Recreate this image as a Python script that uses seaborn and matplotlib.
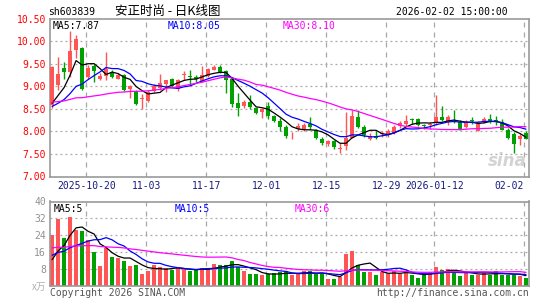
import numpy as np
import pandas as pd
import matplotlib
matplotlib.use('Agg')
import matplotlib.pyplot as plt
import seaborn as sns

## Data
code        = 'sh603839'
title       = '安正时尚 - 日K线图'
stamp       = '2026-02-02 15:00:00'
tick_idx    = [6, 16, 26, 36, 46, 56, 64, 79]
tick_labels = ['2025-10-20', '11-03', '11-17', '12-01', '12-15', '12-29', '2026-01-12', '02-02']

opens  = [8.58, 9.02, 9.41, 9.32, 9.80, 9.84, 9.21, 9.45, 9.16, 9.22,
          9.30, 9.17, 9.25, 8.93, 8.90, 8.72, 8.68, 8.90, 8.95, 9.05,
          9.16, 8.93, 9.25, 9.23, 9.21, 9.10, 9.23, 9.36, 9.42, 9.34,
          9.16, 8.62, 8.57, 8.64, 8.51, 8.42, 8.56, 8.33, 8.23, 8.10,
          7.91, 8.06, 8.05, 8.17, 8.04, 7.84, 7.73, 7.78, 7.62, 7.68,
          7.86, 8.31, 8.10, 7.83, 7.90, 7.94, 7.92, 7.97, 8.12, 8.16,
          8.28, 8.27, 8.13, 8.14, 8.20, 8.31, 8.20, 8.23, 8.20, 8.10,
          8.26, 8.01, 8.20, 8.28, 8.25, 8.21, 8.03, 7.94, 7.83, 7.96]
highs  = [9.45, 9.65, 9.54, 10.22, 10.13, 9.86, 9.48, 9.50, 9.30, 9.76,
          9.36, 9.30, 9.28, 9.02, 8.92, 8.82, 8.92, 9.04, 9.26, 9.14,
          9.18, 9.16, 9.33, 9.37, 9.24, 9.44, 9.40, 9.48, 9.48, 9.37,
          9.20, 8.84, 8.70, 8.80, 8.55, 8.52, 8.66, 8.36, 8.30, 8.14,
          7.99, 8.18, 8.18, 8.32, 8.06, 7.88, 7.80, 7.80, 7.75, 8.42,
          8.48, 8.47, 8.14, 7.96, 8.00, 8.00, 8.05, 8.14, 8.24, 8.36,
          8.30, 8.30, 8.16, 8.20, 8.80, 8.56, 8.36, 8.48, 8.25, 8.26,
          8.32, 8.22, 8.32, 8.38, 8.33, 8.28, 8.07, 7.99, 7.95, 8.00]
lows   = [8.52, 8.92, 9.17, 9.21, 9.62, 8.92, 9.15, 9.10, 9.14, 9.14,
          9.18, 9.15, 8.90, 8.75, 8.58, 8.50, 8.66, 8.88, 8.92, 8.87,
          8.98, 8.90, 9.14, 9.03, 9.10, 9.10, 9.20, 9.35, 9.30, 8.85,
          8.55, 8.33, 8.52, 8.50, 8.38, 8.30, 8.27, 8.21, 8.00, 7.85,
          7.83, 8.00, 8.00, 8.06, 7.82, 7.70, 7.68, 7.61, 7.53, 7.59,
          7.86, 8.08, 7.88, 7.80, 7.84, 7.87, 7.88, 7.95, 8.08, 8.12,
          8.17, 8.12, 8.06, 8.06, 8.15, 8.22, 8.14, 8.18, 8.03, 8.08,
          8.17, 8.00, 8.18, 8.18, 8.14, 8.03, 7.84, 7.53, 7.70, 7.82]
closes = [9.43, 9.27, 9.32, 9.78, 10.04, 8.94, 9.41, 9.33, 9.23, 9.39,
          9.20, 9.25, 8.92, 9.00, 8.60, 8.74, 8.88, 9.01, 9.08, 9.14,
          9.01, 9.14, 9.27, 9.21, 9.16, 9.25, 9.38, 9.43, 9.32, 9.14,
          8.60, 8.51, 8.66, 8.55, 8.40, 8.50, 8.35, 8.23, 8.10, 7.90,
          7.93, 8.11, 8.14, 8.09, 7.86, 7.74, 7.78, 7.66, 7.64, 7.86,
          8.34, 8.10, 7.92, 7.90, 7.86, 7.96, 8.00, 8.10, 8.19, 8.23,
          8.26, 8.14, 8.12, 8.17, 8.31, 8.25, 8.31, 8.21, 8.05, 8.20,
          8.24, 8.17, 8.28, 8.20, 8.24, 8.04, 7.85, 7.73, 7.90, 7.83]
vols   = [24.0, 31.8, 22.5, 32.7, 26.3, 26.0, 21.6, 16.0, 9.1, 17.9,
          13.6, 13.1, 11.7, 9.1, 9.7, 5.4, 6.7, 9.6, 8.6, 8.3,
          7.3, 8.3, 8.0, 6.7, 7.3, 8.3, 8.3, 10.2, 9.6, 9.6,
          11.7, 8.6, 6.7, 5.4, 5.4, 4.8, 5.4, 6.0, 6.2, 6.7,
          4.8, 5.4, 7.0, 6.7, 5.4, 5.4, 3.2, 3.2, 4.0, 15.0,
          16.3, 9.7, 6.2, 6.2, 4.8, 6.4, 5.4, 7.0, 5.4, 6.7,
          5.1, 3.8, 5.1, 6.2, 8.6, 7.2, 7.8, 6.5, 4.6, 6.2,
          5.1, 5.1, 6.2, 5.1, 6.7, 5.1, 5.1, 5.1, 4.6, 3.8]
# sessions before the window, only needed for the moving averages
hist_close = [8.90, 8.85, 8.80, 8.95, 8.90, 8.80, 8.75, 8.70, 8.65, 8.60,
              8.70, 8.75, 8.60, 8.55, 8.60, 8.65, 8.55, 8.60, 8.50, 8.50,
              8.55, 8.50, 8.45, 8.45, 8.45, 8.40, 8.45, 8.40, 8.43]
hist_vol   = [22, 25, 18, 20, 24, 19, 17, 21, 23, 18,
              16, 20, 22, 19, 17, 18, 21, 20, 17, 16,
              18, 17, 16, 16, 15.5, 11, 9.5, 8.5, 8.5]

## Colours
RED   = '#ff5555'
GREEN = '#00a000'
GRID  = '#a8a8a8'
MA_COLORS = {5: 'black', 10: '#0000ff', 30: '#ff00ff'}

n   = len(closes)
idx = np.arange(n)
df  = pd.DataFrame({'open': opens, 'high': highs, 'low': lows, 'close': closes, 'vol': vols})
up  = df['close'] >= df['open']
col = np.where(up, RED, GREEN)

all_close = pd.Series(hist_close + closes)
all_vol   = pd.Series(hist_vol + vols)
nh = len(hist_close)
ma_p = {k: all_close.rolling(k).mean().values[nh:] for k in MA_COLORS}
ma_v = {k: all_vol.rolling(k).mean().values[nh:] for k in MA_COLORS}

sns.set_style('white')
plt.rcParams['font.family'] = ['DejaVu Sans Mono', 'Noto Sans CJK SC']

W, H = 545, 300
fig = plt.figure(figsize=(W/100, H/100), dpi=100)
def box(l, t, r, b):
    return [l/W, 1-b/H, (r-l)/W, (b-t)/H]

ax  = fig.add_axes(box(50, 18.5, 529, 176.5))
axv = fig.add_axes(box(50, 201.5, 529, 285.5))

xlim = (-0.35, 79.5)
## Price panel
for lvl in np.arange(7.5, 10.5, 0.5):
    ax.axhline(lvl, color=GRID, ls=(0, (1.5, 2.5)), lw=0.9, zorder=0)
for t in tick_idx:
    ax.axvline(t-0.3, color=GRID, ls=(0, (4, 4)), lw=0.9, zorder=0)
    axv.axvline(t-0.3, color=GRID, ls=(0, (4, 4)), lw=0.9, zorder=0)

ax.vlines(idx, df['low'], df['high'], colors=col, lw=1, zorder=2)
body_lo = np.minimum(df['open'], df['close'])
body_h  = np.maximum(np.abs(df['close']-df['open']), 0.012)
ax.bar(idx, body_h, bottom=body_lo, width=0.8, color=col, lw=0, zorder=3)

for k, c in MA_COLORS.items():
    sns.lineplot(x=idx, y=ma_p[k], ax=ax, color=c, lw=0.9, legend=False, zorder=4)

ax.set_xlim(*xlim)
ax.set_ylim(7.0, 10.5)
yt = np.arange(7.0, 10.51, 0.5)
ax.set_yticks(yt)
ax.set_yticklabels(['%.2f' % v for v in yt], color='red', fontsize=7)
ax.set_xticks([t-0.3 for t in tick_idx])
ax.set_xticklabels(tick_labels, color='#1a1a80', fontsize=7)
xl = ax.get_xticklabels()
xl[-1].set_ha('right')
xl[-1].set_x(0)
ax.tick_params(length=0, pad=3)
ax.set_ylabel('')

ax.text(0.006, 0.985, 'MA5:%.2f' % ma_p[5][-1], transform=ax.transAxes, color=MA_COLORS[5], fontsize=7, va='top')
ax.text(0.245, 0.985, 'MA10:%.2f' % ma_p[10][-1], transform=ax.transAxes, color=MA_COLORS[10], fontsize=7, va='top')
ax.text(0.486, 0.985, 'MA30:%.2f' % ma_p[30][-1], transform=ax.transAxes, color=MA_COLORS[30], fontsize=7, va='top')
ax.text(0.955, 0.10, 'sina', transform=ax.transAxes, color='#c8c8c8', fontsize=12,
        style='italic', fontweight='bold', family='DejaVu Sans', ha='center', va='center', alpha=0.8, zorder=1)

## Volume panel
for lvl in [8, 16, 24, 32]:
    axv.axhline(lvl, color=GRID, ls=(0, (1.5, 2.5)), lw=0.9, zorder=0)
axv.bar(idx, df['vol'], width=0.8, color=col, lw=0, zorder=2)
for k, c in MA_COLORS.items():
    sns.lineplot(x=idx, y=ma_v[k], ax=axv, color=c, lw=0.9, legend=False, zorder=3)
axv.set_xlim(*xlim)
axv.set_ylim(0, 40)
axv.set_yticks([8, 16, 24, 32, 40])
axv.set_yticklabels(['8', '16', '24', '32', '40'], color='#909090', fontsize=7)
axv.set_xticks([])
axv.tick_params(length=0, pad=3)
axv.text(0.008, 0.97, 'MA5:%d' % round(ma_v[5][-1]), transform=axv.transAxes, color=MA_COLORS[5], fontsize=7, va='top')
axv.text(0.26, 0.97, 'MA10:%d' % round(ma_v[10][-1]), transform=axv.transAxes, color=MA_COLORS[10], fontsize=7, va='top')
axv.text(0.51, 0.97, 'MA30:%d' % round(ma_v[30][-1]), transform=axv.transAxes, color=MA_COLORS[30], fontsize=7, va='top')

for a in (ax, axv):
    for s in a.spines.values():
        s.set_color('#999999')
        s.set_linewidth(1.2)

## Header / footer
fig.text(48/W, 1-12/H, code, fontsize=7, va='center', color='black')
fig.text(115/W, 1-12/H, title, fontsize=9, va='center', color='black',
         family=['Noto Sans CJK SC', 'DejaVu Sans'])
fig.text(508/W, 1-12/H, stamp, fontsize=7, va='center', ha='right', color='black')
fig.text(46/W, 1-287/H, 'x万', fontsize=7, va='center', ha='right', color='#b0b0b0',
         family=['Noto Sans CJK SC', 'DejaVu Sans'])
fig.text(50/W, 1-293/H, 'Copyright 2026 SINA.COM', fontsize=7, va='center', color='#555555')
fig.text(529/W, 1-293/H, 'http://finance.sina.com.cn', fontsize=7, va='center', ha='right', color='#555555')

fig.savefig('out.png', dpi=100)
